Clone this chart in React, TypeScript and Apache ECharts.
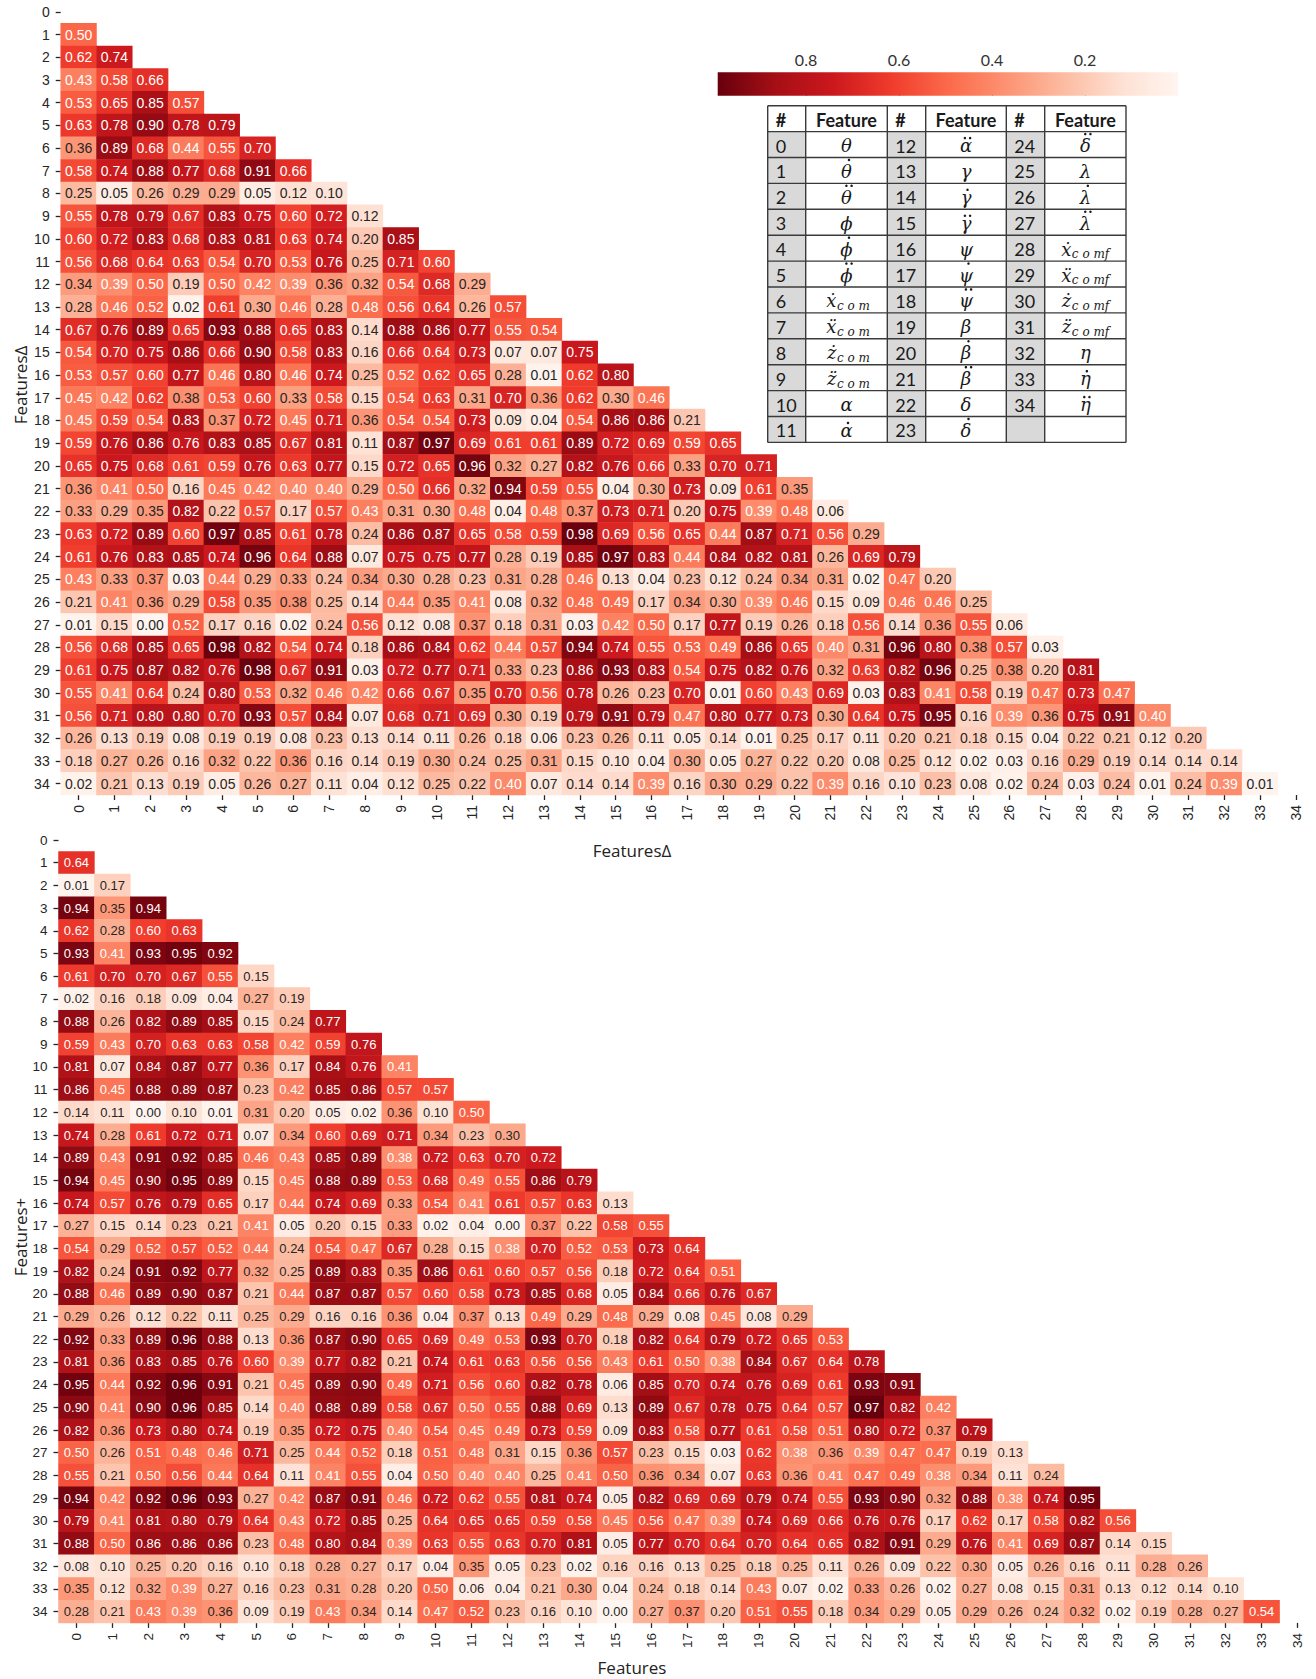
import React, { useEffect, useRef } from "react";
import * as echarts from "echarts";

// ---------------- DATA ----------------
const FEATURE_TICKS = [
  "0", "1", "2", "3", "4", "5", "6", "7", "8", "9", "10", "11", "12", "13", "14", "15", "16", "17",
  "18", "19", "20", "21", "22", "23", "24", "25", "26", "27", "28", "29", "30", "31", "32", "33", "34",
];

// Lower triangle of the FeaturesΔ correlation matrix (row i holds columns 0..i-1)
const DELTA_ROWS: number[][] = [
  [],
  [0.50],
  [0.62, 0.74],
  [0.43, 0.58, 0.66],
  [0.53, 0.65, 0.85, 0.57],
  [0.63, 0.78, 0.90, 0.78, 0.79],
  [0.36, 0.89, 0.68, 0.44, 0.55, 0.70],
  [0.58, 0.74, 0.88, 0.77, 0.68, 0.91, 0.66],
  [0.25, 0.05, 0.26, 0.29, 0.29, 0.05, 0.12, 0.10],
  [0.55, 0.78, 0.79, 0.67, 0.83, 0.75, 0.60, 0.72, 0.12],
  [0.60, 0.72, 0.83, 0.68, 0.83, 0.81, 0.63, 0.74, 0.20, 0.85],
  [0.56, 0.68, 0.64, 0.63, 0.54, 0.70, 0.53, 0.76, 0.25, 0.71, 0.60],
  [0.34, 0.39, 0.50, 0.19, 0.50, 0.42, 0.39, 0.36, 0.32, 0.54, 0.68, 0.29],
  [0.28, 0.46, 0.52, 0.02, 0.61, 0.30, 0.46, 0.28, 0.48, 0.56, 0.64, 0.26, 0.57],
  [0.67, 0.76, 0.89, 0.65, 0.93, 0.88, 0.65, 0.83, 0.14, 0.88, 0.86, 0.77, 0.55, 0.54],
  [0.54, 0.70, 0.75, 0.86, 0.66, 0.90, 0.58, 0.83, 0.16, 0.66, 0.64, 0.73, 0.07, 0.07, 0.75],
  [0.53, 0.57, 0.60, 0.77, 0.46, 0.80, 0.46, 0.74, 0.25, 0.52, 0.62, 0.65, 0.28, 0.01, 0.62, 0.80],
  [0.45, 0.42, 0.62, 0.38, 0.53, 0.60, 0.33, 0.58, 0.15, 0.54, 0.63, 0.31, 0.70, 0.36, 0.62, 0.30, 0.46],
  [0.45, 0.59, 0.54, 0.83, 0.37, 0.72, 0.45, 0.71, 0.36, 0.54, 0.54, 0.73, 0.09, 0.04, 0.54, 0.86, 0.86, 0.21],
  [0.59, 0.76, 0.86, 0.76, 0.83, 0.85, 0.67, 0.81, 0.11, 0.87, 0.97, 0.69, 0.61, 0.61, 0.89, 0.72, 0.69, 0.59, 0.65],
  [0.65, 0.75, 0.68, 0.61, 0.59, 0.76, 0.63, 0.77, 0.15, 0.72, 0.65, 0.96, 0.32, 0.27, 0.82, 0.76, 0.66, 0.33, 0.70, 0.71],
  [0.36, 0.41, 0.50, 0.16, 0.45, 0.42, 0.40, 0.40, 0.29, 0.50, 0.66, 0.32, 0.94, 0.59, 0.55, 0.04, 0.30, 0.73, 0.09, 0.61, 0.35],
  [0.33, 0.29, 0.35, 0.82, 0.22, 0.57, 0.17, 0.57, 0.43, 0.31, 0.30, 0.48, 0.04, 0.48, 0.37, 0.73, 0.71, 0.20, 0.75, 0.39, 0.48, 0.06],
  [0.63, 0.72, 0.89, 0.60, 0.97, 0.85, 0.61, 0.78, 0.24, 0.86, 0.87, 0.65, 0.58, 0.59, 0.98, 0.69, 0.56, 0.65, 0.44, 0.87, 0.71, 0.56, 0.29],
  [0.61, 0.76, 0.83, 0.85, 0.74, 0.96, 0.64, 0.88, 0.07, 0.75, 0.75, 0.77, 0.28, 0.19, 0.85, 0.97, 0.83, 0.44, 0.84, 0.82, 0.81, 0.26, 0.69, 0.79],
  [0.43, 0.33, 0.37, 0.03, 0.44, 0.29, 0.33, 0.24, 0.34, 0.30, 0.28, 0.23, 0.31, 0.28, 0.46, 0.13, 0.04, 0.23, 0.12, 0.24, 0.34, 0.31, 0.02, 0.47, 0.20],
  [0.21, 0.41, 0.36, 0.29, 0.58, 0.35, 0.38, 0.25, 0.14, 0.44, 0.35, 0.41, 0.08, 0.32, 0.48, 0.49, 0.17, 0.34, 0.30, 0.39, 0.46, 0.15, 0.09, 0.46, 0.46, 0.25],
  [0.01, 0.15, 0.00, 0.52, 0.17, 0.16, 0.02, 0.24, 0.56, 0.12, 0.08, 0.37, 0.18, 0.31, 0.03, 0.42, 0.50, 0.17, 0.77, 0.19, 0.26, 0.18, 0.56, 0.14, 0.36, 0.55, 0.06],
  [0.56, 0.68, 0.85, 0.65, 0.98, 0.82, 0.54, 0.74, 0.18, 0.86, 0.84, 0.62, 0.44, 0.57, 0.94, 0.74, 0.55, 0.53, 0.49, 0.86, 0.65, 0.40, 0.31, 0.96, 0.80, 0.38, 0.57, 0.03],
  [0.61, 0.75, 0.87, 0.82, 0.76, 0.98, 0.67, 0.91, 0.03, 0.72, 0.77, 0.71, 0.33, 0.23, 0.86, 0.93, 0.83, 0.54, 0.75, 0.82, 0.76, 0.32, 0.63, 0.82, 0.96, 0.25, 0.38, 0.20, 0.81],
  [0.55, 0.41, 0.64, 0.24, 0.80, 0.53, 0.32, 0.46, 0.42, 0.66, 0.67, 0.35, 0.70, 0.56, 0.78, 0.26, 0.23, 0.70, 0.01, 0.60, 0.43, 0.69, 0.03, 0.83, 0.41, 0.58, 0.19, 0.47, 0.73, 0.47],
  [0.56, 0.71, 0.80, 0.80, 0.70, 0.93, 0.57, 0.84, 0.07, 0.68, 0.71, 0.69, 0.30, 0.19, 0.79, 0.91, 0.79, 0.47, 0.80, 0.77, 0.73, 0.30, 0.64, 0.75, 0.95, 0.16, 0.39, 0.36, 0.75, 0.91, 0.40],
  [0.26, 0.13, 0.19, 0.08, 0.19, 0.19, 0.08, 0.23, 0.13, 0.14, 0.11, 0.26, 0.18, 0.06, 0.23, 0.26, 0.11, 0.05, 0.14, 0.01, 0.25, 0.17, 0.11, 0.20, 0.21, 0.18, 0.15, 0.04, 0.22, 0.21, 0.12, 0.20],
  [0.18, 0.27, 0.26, 0.16, 0.32, 0.22, 0.36, 0.16, 0.14, 0.19, 0.30, 0.24, 0.25, 0.31, 0.15, 0.10, 0.04, 0.30, 0.05, 0.27, 0.22, 0.20, 0.08, 0.25, 0.12, 0.02, 0.03, 0.16, 0.29, 0.19, 0.14, 0.14, 0.14],
  [0.02, 0.21, 0.13, 0.19, 0.05, 0.26, 0.27, 0.11, 0.04, 0.12, 0.25, 0.22, 0.40, 0.07, 0.14, 0.14, 0.39, 0.16, 0.30, 0.29, 0.22, 0.39, 0.16, 0.10, 0.23, 0.08, 0.02, 0.24, 0.03, 0.24, 0.01, 0.24, 0.39, 0.01],
];

// Lower triangle of the Features+ correlation matrix
const PLUS_ROWS: number[][] = [
  [],
  [0.64],
  [0.01, 0.17],
  [0.94, 0.35, 0.94],
  [0.62, 0.28, 0.60, 0.63],
  [0.93, 0.41, 0.93, 0.95, 0.92],
  [0.61, 0.70, 0.70, 0.67, 0.55, 0.15],
  [0.02, 0.16, 0.18, 0.09, 0.04, 0.27, 0.19],
  [0.88, 0.26, 0.82, 0.89, 0.85, 0.15, 0.24, 0.77],
  [0.59, 0.43, 0.70, 0.63, 0.63, 0.58, 0.42, 0.59, 0.76],
  [0.81, 0.07, 0.84, 0.87, 0.77, 0.36, 0.17, 0.84, 0.76, 0.41],
  [0.86, 0.45, 0.88, 0.89, 0.87, 0.23, 0.42, 0.85, 0.86, 0.57, 0.57],
  [0.14, 0.11, 0.00, 0.10, 0.01, 0.31, 0.20, 0.05, 0.02, 0.36, 0.10, 0.50],
  [0.74, 0.28, 0.61, 0.72, 0.71, 0.07, 0.34, 0.60, 0.69, 0.71, 0.34, 0.23, 0.30],
  [0.89, 0.43, 0.91, 0.92, 0.85, 0.46, 0.43, 0.85, 0.89, 0.38, 0.72, 0.63, 0.70, 0.72],
  [0.94, 0.45, 0.90, 0.95, 0.89, 0.15, 0.45, 0.88, 0.89, 0.53, 0.68, 0.49, 0.55, 0.86, 0.79],
  [0.74, 0.57, 0.76, 0.79, 0.65, 0.17, 0.44, 0.74, 0.69, 0.33, 0.54, 0.41, 0.61, 0.57, 0.63, 0.13],
  [0.27, 0.15, 0.14, 0.23, 0.21, 0.41, 0.05, 0.20, 0.15, 0.33, 0.02, 0.04, 0.00, 0.37, 0.22, 0.58, 0.55],
  [0.54, 0.29, 0.52, 0.57, 0.52, 0.44, 0.24, 0.54, 0.47, 0.67, 0.28, 0.15, 0.38, 0.70, 0.52, 0.53, 0.73, 0.64],
  [0.82, 0.24, 0.91, 0.92, 0.77, 0.32, 0.25, 0.89, 0.83, 0.35, 0.86, 0.61, 0.60, 0.57, 0.56, 0.18, 0.72, 0.64, 0.51],
  [0.88, 0.46, 0.89, 0.90, 0.87, 0.21, 0.44, 0.87, 0.87, 0.57, 0.60, 0.58, 0.73, 0.85, 0.68, 0.05, 0.84, 0.66, 0.76, 0.67],
  [0.29, 0.26, 0.12, 0.22, 0.11, 0.25, 0.29, 0.16, 0.16, 0.36, 0.04, 0.37, 0.13, 0.49, 0.29, 0.48, 0.29, 0.08, 0.45, 0.08, 0.29],
  [0.92, 0.33, 0.89, 0.96, 0.88, 0.13, 0.36, 0.87, 0.90, 0.65, 0.69, 0.49, 0.53, 0.93, 0.70, 0.18, 0.82, 0.64, 0.79, 0.72, 0.65, 0.53],
  [0.81, 0.36, 0.83, 0.85, 0.76, 0.60, 0.39, 0.77, 0.82, 0.21, 0.74, 0.61, 0.63, 0.56, 0.56, 0.43, 0.61, 0.50, 0.38, 0.84, 0.67, 0.64, 0.78],
  [0.95, 0.44, 0.92, 0.96, 0.91, 0.21, 0.45, 0.89, 0.90, 0.49, 0.71, 0.56, 0.60, 0.82, 0.78, 0.06, 0.85, 0.70, 0.74, 0.76, 0.69, 0.61, 0.93, 0.91],
  [0.90, 0.41, 0.90, 0.96, 0.85, 0.14, 0.40, 0.88, 0.89, 0.58, 0.67, 0.50, 0.55, 0.88, 0.69, 0.13, 0.89, 0.67, 0.78, 0.75, 0.64, 0.57, 0.97, 0.82, 0.42],
  [0.82, 0.36, 0.73, 0.80, 0.74, 0.19, 0.35, 0.72, 0.75, 0.40, 0.54, 0.45, 0.49, 0.73, 0.59, 0.09, 0.83, 0.58, 0.77, 0.61, 0.58, 0.51, 0.80, 0.72, 0.37, 0.79],
  [0.50, 0.26, 0.51, 0.48, 0.46, 0.71, 0.25, 0.44, 0.52, 0.18, 0.51, 0.48, 0.31, 0.15, 0.36, 0.57, 0.23, 0.15, 0.03, 0.62, 0.38, 0.36, 0.39, 0.47, 0.47, 0.19, 0.13],
  [0.55, 0.21, 0.50, 0.56, 0.44, 0.64, 0.11, 0.41, 0.55, 0.04, 0.50, 0.40, 0.40, 0.25, 0.41, 0.50, 0.36, 0.34, 0.07, 0.63, 0.36, 0.41, 0.47, 0.49, 0.38, 0.34, 0.11, 0.24],
  [0.94, 0.42, 0.92, 0.96, 0.93, 0.27, 0.42, 0.87, 0.91, 0.46, 0.72, 0.62, 0.55, 0.81, 0.74, 0.05, 0.82, 0.69, 0.69, 0.79, 0.74, 0.55, 0.93, 0.90, 0.32, 0.88, 0.38, 0.74, 0.95],
  [0.79, 0.41, 0.81, 0.80, 0.79, 0.64, 0.43, 0.72, 0.85, 0.25, 0.64, 0.65, 0.65, 0.59, 0.58, 0.45, 0.56, 0.47, 0.39, 0.74, 0.69, 0.66, 0.76, 0.76, 0.17, 0.62, 0.17, 0.58, 0.82, 0.56],
  [0.88, 0.50, 0.86, 0.86, 0.86, 0.23, 0.48, 0.80, 0.84, 0.39, 0.63, 0.55, 0.63, 0.70, 0.81, 0.05, 0.77, 0.70, 0.64, 0.70, 0.64, 0.65, 0.82, 0.91, 0.29, 0.76, 0.41, 0.69, 0.87, 0.14, 0.15],
  [0.08, 0.10, 0.25, 0.20, 0.16, 0.10, 0.18, 0.28, 0.27, 0.17, 0.04, 0.35, 0.05, 0.23, 0.02, 0.16, 0.16, 0.13, 0.25, 0.18, 0.25, 0.11, 0.26, 0.09, 0.22, 0.30, 0.05, 0.26, 0.16, 0.11, 0.28, 0.26],
  [0.35, 0.12, 0.32, 0.39, 0.27, 0.16, 0.23, 0.31, 0.28, 0.20, 0.50, 0.06, 0.04, 0.21, 0.30, 0.04, 0.24, 0.18, 0.14, 0.43, 0.07, 0.02, 0.33, 0.26, 0.02, 0.27, 0.08, 0.15, 0.31, 0.13, 0.12, 0.14, 0.10],
  [0.28, 0.21, 0.43, 0.39, 0.36, 0.09, 0.19, 0.43, 0.34, 0.14, 0.47, 0.52, 0.23, 0.16, 0.10, 0.00, 0.27, 0.37, 0.20, 0.51, 0.55, 0.18, 0.34, 0.29, 0.05, 0.29, 0.26, 0.24, 0.32, 0.02, 0.19, 0.28, 0.27, 0.54],
];

// Feature legend table: base symbol, number of time-derivative dots drawn above Greek letters, subscript
const FEATURE_SYMBOLS = [
  "\u03B8", "\u03B8", "\u03B8", "\u03D5", "\u03D5", "\u03D5",
  "\u1E8B", "\u1E8D", "\u017C", "z\u0308", "\u03B1", "\u03B1",
  "\u03B1", "\u03B3", "\u03B3", "\u03B3", "\u03C8", "\u03C8",
  "\u03C8", "\u03B2", "\u03B2", "\u03B2", "\u03B4", "\u03B4",
  "\u03B4", "\u03BB", "\u03BB", "\u03BB", "\u1E8B", "\u1E8D",
  "\u017C", "z\u0308", "\u03B7", "\u03B7", "\u03B7",
];
const FEATURE_DOTS = [
  0, 1, 2, 0, 1, 2,
  0, 0, 0, 0, 0, 1,
  2, 0, 1, 2, 0, 1,
  2, 0, 1, 2, 0, 1,
  2, 0, 1, 2, 0, 0,
  0, 0, 0, 1, 2,
];
const FEATURE_SUBS = [
  "", "", "", "", "", "", "c o m", "c o m", "c o m", "c o m", "", "",
  "", "", "", "", "", "", "", "", "", "", "", "",
  "", "", "", "", "c o mf", "c o mf", "c o mf", "c o mf", "", "", "",
];
const TALL_GREEK = "\u03B8\u03D5\u03C8\u03B2\u03B4\u03BB";

const COLORBAR_TICKS = [0.2, 0.4, 0.6, 0.8];
const DELTA_MAX = 0.99;
const PLUS_MAX = 0.97;

// seaborn / matplotlib "Reds"
const REDS = ["#fff5f0", "#fee0d2", "#fcbba1", "#fc9272", "#fb6a4a", "#ef3b2c", "#cb181d", "#a50f15", "#67000d"];

// ---------------- helpers ----------------
function hexToRgb(h: string) {
  return [parseInt(h.slice(1, 3), 16), parseInt(h.slice(3, 5), 16), parseInt(h.slice(5, 7), 16)];
}
function redsAt(t: number) {
  const tt = Math.max(0, Math.min(1, t)) * (REDS.length - 1);
  const i = Math.min(REDS.length - 2, Math.floor(tt));
  const f = tt - i;
  const a = hexToRgb(REDS[i]);
  const b = hexToRgb(REDS[i + 1]);
  return [0, 1, 2].map((k) => a[k] + (b[k] - a[k]) * f);
}
function textColorFor(v: number, vmax: number) {
  const rgb = redsAt(v / vmax).map((c) => {
    const s = c / 255;
    return s <= 0.03928 ? s / 12.92 : Math.pow((s + 0.055) / 1.055, 2.4);
  });
  const lum = 0.2126 * rgb[0] + 0.7152 * rgb[1] + 0.0722 * rgb[2];
  return lum > 0.408 ? "#262626" : "#ffffff";
}
function buildData(rows: number[][], vmax: number) {
  const out: any[] = [];
  rows.forEach((row, r) => {
    row.forEach((v, c) => {
      out.push({ value: [c, r, v], label: { color: textColorFor(v, vmax) } });
    });
  });
  return out;
}

const SANS = "'Liberation Sans', Arial, sans-serif";
const TICK_COLOR = "#262626";

function catX(gridIndex: number, fontSize: number) {
  return {
    type: "category",
    gridIndex,
    data: FEATURE_TICKS,
    position: "bottom",
    axisLine: { show: false },
    axisTick: { show: true, alignWithLabel: true, length: 5, lineStyle: { color: TICK_COLOR, width: 1.3 } },
    axisLabel: { interval: 0, rotate: 90, margin: 10, fontSize, color: TICK_COLOR, fontFamily: SANS },
    splitLine: { show: false },
  };
}
function catY(gridIndex: number, fontSize: number) {
  return {
    type: "category",
    gridIndex,
    data: FEATURE_TICKS,
    inverse: true,
    axisLine: { show: false },
    axisTick: { show: true, alignWithLabel: true, length: 5, lineStyle: { color: TICK_COLOR, width: 1.3 } },
    axisLabel: { interval: 0, margin: 11, fontSize, color: TICK_COLOR, fontFamily: SANS },
    splitLine: { show: false },
  };
}

// ---------------- table graphics ----------------
const TX = [767.7, 805.7, 887.3, 925.7, 1006.3, 1044.7, 1126];
const TY0 = 105.7;
const TRH = 25.9;
const TNROWS = 13;

function buildTable() {
  const els: any[] = [];
  const serif = "'DejaVu Serif', serif";
  const uiFont = "Lato, 'Open Sans', sans-serif";
  const ink = "#1a1a1a";
  for (let r = 1; r < TNROWS; r++) {
    for (let g = 0; g < 3; g++) {
      const idx = g * 12 + r - 1;
      const y = TY0 + r * TRH;
      const yc = y + TRH / 2 + 1;
      els.push({
        type: "rect",
        shape: { x: TX[2 * g], y, width: TX[2 * g + 1] - TX[2 * g], height: TRH },
        style: { fill: "#d9d9d9" },
        z: 10,
      });
      if (idx >= FEATURE_TICKS.length) continue;
      els.push({
        type: "text",
        x: TX[2 * g] + 8,
        y: yc,
        style: { text: FEATURE_TICKS[idx], fontFamily: uiFont, fontSize: 18, fill: ink, align: "left", verticalAlign: "middle" },
        z: 12,
      });
      const cx = (TX[2 * g + 1] + TX[2 * g + 2]) / 2;
      const sym = FEATURE_SYMBOLS[idx];
      const sub = FEATURE_SUBS[idx];
      if (sub) {
        const baseX = cx - (sub.length > 5 ? 14 : 10);
        els.push({
          type: "text",
          x: baseX,
          y: yc,
          style: { text: sym, fontFamily: serif, fontStyle: "italic", fontSize: 18, fill: ink, align: "right", verticalAlign: "middle" },
          z: 12,
        });
        els.push({
          type: "text",
          x: baseX + 0.5,
          y: yc + 5,
          style: { text: sub, fontFamily: serif, fontStyle: "italic", fontSize: 12, fill: ink, align: "left", verticalAlign: "middle" },
          z: 12,
        });
      } else {
        els.push({
          type: "text",
          x: cx,
          y: yc,
          style: { text: sym, fontFamily: serif, fontStyle: "italic", fontSize: 18, fill: ink, align: "center", verticalAlign: "middle" },
          z: 12,
        });
        const nd = FEATURE_DOTS[idx];
        if (nd > 0) {
          const tall = TALL_GREEK.indexOf(sym) >= 0;
          const dy = tall ? -11.5 : -7.5;
          const dx = tall ? 2.5 : 1.5;
          const offs = nd === 1 ? [0] : [-2.6, 2.6];
          offs.forEach((o) => {
            els.push({
              type: "circle",
              shape: { cx: cx + dx + o, cy: yc + dy, r: 1.25 },
              style: { fill: ink },
              z: 12,
            });
          });
        }
      }
    }
  }
  // header
  for (let g = 0; g < 3; g++) {
    els.push({
      type: "text",
      x: TX[2 * g] + 8,
      y: TY0 + TRH / 2 + 1,
      style: { text: "#", fontFamily: uiFont, fontWeight: "bold", fontSize: 18, fill: ink, align: "left", verticalAlign: "middle" },
      z: 12,
    });
    els.push({
      type: "text",
      x: (TX[2 * g + 1] + TX[2 * g + 2]) / 2,
      y: TY0 + TRH / 2 + 1,
      style: { text: "Feature", fontFamily: uiFont, fontWeight: "bold", fontSize: 18, fill: ink, align: "center", verticalAlign: "middle" },
      z: 12,
    });
  }
  // grid lines
  for (let i = 0; i <= TNROWS; i++) {
    const y = TY0 + i * TRH;
    els.push({ type: "line", shape: { x1: TX[0], y1: y, x2: TX[6], y2: y }, style: { stroke: "#3a3a3a", lineWidth: 1.4 }, z: 13 });
  }
  TX.forEach((x) => {
    els.push({ type: "line", shape: { x1: x, y1: TY0, x2: x, y2: TY0 + TNROWS * TRH }, style: { stroke: "#3a3a3a", lineWidth: 1.4 }, z: 13 });
  });
  return els;
}

// ---------------- component ----------------
export default function App() {
  const ref = useRef<HTMLDivElement>(null);
  useEffect(() => {
    const chart = echarts.init(ref.current!, null, { renderer: "svg" });
    const CB = { left: 717.7, top: 72.3, width: 460.3, height: 23.4 };
    // ascending offsets: dark (max) on the left, light (0) on the right
    const cbStops = REDS.map((_, i) => ({ offset: i / (REDS.length - 1), color: REDS[REDS.length - 1 - i] }));

    const option: any = {
      animation: false,
      backgroundColor: "#ffffff",
      grid: [
        { left: 60.7, top: 0.5, width: 1253, height: 794.5 },
        { left: 58.5, top: 828.7, width: 1257, height: 794.2 },
        { left: CB.left, top: CB.top, width: CB.width, height: CB.height },
      ],
      xAxis: [
        catX(0, 14),
        catX(1, 13.5),
        {
          type: "value",
          gridIndex: 2,
          min: 0,
          max: DELTA_MAX,
          inverse: true,
          position: "top",
          axisLine: { show: false },
          axisTick: { show: true, length: 3, customValues: COLORBAR_TICKS, lineStyle: { color: "#333", width: 1 } },
          axisLabel: {
            customValues: COLORBAR_TICKS,
            margin: 5,
            fontSize: 16,
            color: "#333",
            fontFamily: "Lato, 'Open Sans', sans-serif",
            formatter: (v: number) => v.toFixed(1),
          },
          splitLine: { show: false },
        },
      ],
      yAxis: [
        catY(0, 14),
        catY(1, 13.5),
        { type: "value", gridIndex: 2, show: false, min: 0, max: 1 },
      ],
      visualMap: [
        { type: "continuous", show: false, min: 0, max: DELTA_MAX, dimension: 2, seriesIndex: 0, inRange: { color: REDS } },
        { type: "continuous", show: false, min: 0, max: PLUS_MAX, dimension: 2, seriesIndex: 1, inRange: { color: REDS } },
      ],
      series: [
        {
          type: "heatmap",
          xAxisIndex: 0,
          yAxisIndex: 0,
          data: buildData(DELTA_ROWS, DELTA_MAX),
          label: { show: true, fontSize: 14, fontFamily: SANS, formatter: (p: any) => p.value[2].toFixed(2) },
          emphasis: { disabled: true },
        },
        {
          type: "heatmap",
          xAxisIndex: 1,
          yAxisIndex: 1,
          data: buildData(PLUS_ROWS, PLUS_MAX),
          label: { show: true, fontSize: 13, fontFamily: SANS, formatter: (p: any) => p.value[2].toFixed(2) },
          emphasis: { disabled: true },
        },
      ],
      graphic: [
        {
          type: "rect",
          shape: { x: CB.left, y: CB.top, width: CB.width, height: CB.height },
          style: { fill: new echarts.graphic.LinearGradient(0, 0, 1, 0, cbStops) },
          z: 5,
        },
        ...buildTable(),
        {
          type: "text",
          x: 632,
          y: 850,
          style: { text: "Features\u0394", fontFamily: "'Open Sans', sans-serif", fontSize: 17, fill: "#222", align: "center", verticalAlign: "middle" },
        },
        {
          type: "text",
          x: 20,
          y: 385,
          rotation: Math.PI / 2,
          style: { text: "Features\u0394", fontFamily: "'Open Sans', sans-serif", fontSize: 17, fill: "#222", align: "center", verticalAlign: "middle" },
        },
        {
          type: "text",
          x: 20,
          y: 1237,
          rotation: Math.PI / 2,
          style: { text: "Features+", fontFamily: "'Open Sans', sans-serif", fontSize: 17, fill: "#222", align: "center", verticalAlign: "middle" },
        },
        {
          type: "text",
          x: 632,
          y: 1667,
          style: { text: "Features", fontFamily: "'Open Sans', sans-serif", fontSize: 17, fill: "#222", align: "center", verticalAlign: "middle" },
        },
      ],
    };
    chart.setOption(option);
    return () => chart.dispose();
  }, []);
  return (
    <div
      ref={ref}
      style={{ position: "absolute", left: 0, top: 0, width: 1316, height: 1679, background: "#ffffff" }}
    />
  );
}
